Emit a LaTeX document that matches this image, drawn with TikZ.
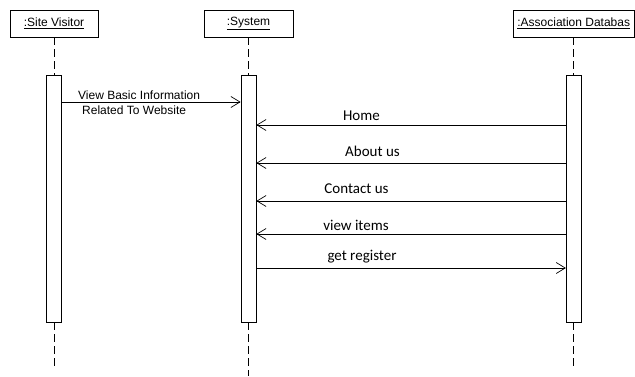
\documentclass[tikz,border=0pt]{standalone}
\usepackage{fontspec}
\setmainfont{Liberation Sans}
\newfontfamily\calfont{Carlito}
\usetikzlibrary{arrows.meta}
\begin{document}
\begin{tikzpicture}[x=1pt,y=-1pt,
  head/.style={draw, line width=0.8pt, minimum height=27pt, inner sep=0pt, font=\fontsize{12}{14}\selectfont},
  act/.style={draw, line width=0.8pt, minimum width=15pt, minimum height=247pt, inner sep=0pt, fill=white},
  life/.style={dash pattern=on 8pt off 4pt, line width=0.7pt},
  msg/.style={line width=0.7pt, -{Straight Barb[length=9pt,width=11pt,line width=0.7pt]}},
  lab/.style={font=\calfont\fontsize{15}{17}\selectfont, inner sep=0pt, anchor=base},
  txt/.style={font=\fontsize{12}{15}\selectfont, inner sep=0pt, align=left, anchor=west}]
\useasboundingbox (0,0) rectangle (635,376);
% heads
\node[head, minimum width=88pt] (h1) at (54,23.5) {\underline{:Site Visitor}};
\node[head, minimum width=89pt] (h2) at (248.5,23.5) {\underline{:System}};
\node[head, minimum width=121.5pt] (h3) at (573.75,23.5) {\underline{:Association Databas}};
% activation bars
\node[act] (a1) at (54,198.5) {};
\node[act] (a2) at (248.5,198.5) {};
\node[act] (a3) at (573.75,198.5) {};
% lifeline ends
\coordinate (e1) at (54,368);
\coordinate (e2) at (248.5,376);
\coordinate (e3) at (573.75,368);
\draw[life] (h1.south) -- (a1.north);
\draw[life] (h2.south) -- (a2.north);
\draw[life] (h3.south) -- (a3.north);
\draw[life] (a1.south) -- (e1);
\draw[life] (a2.south) -- (e2);
\draw[life] (a3.south) -- (e3);
% message levels
\coordinate (y1) at (0,102);
\coordinate (y2) at (0,125);
\coordinate (y3) at (0,163);
\coordinate (y4) at (0,201);
\coordinate (y5) at (0,234);
\coordinate (y6) at (0,268);
\draw[msg] (a1.east |- y1) -- (a2.west |- y1);
\draw[msg] (a3.west |- y2) -- (a2.east |- y2);
\draw[msg] (a3.west |- y3) -- (a2.east |- y3);
\draw[msg] (a3.west |- y4) -- (a2.east |- y4);
\draw[msg] (a3.west |- y5) -- (a2.east |- y5);
\draw[msg] (a2.east |- y6) -- (a3.west |- y6);
% labels
\node[txt] (t1) at (78,102.5) {View Basic Information\\\hspace{4pt}Related To Website};
\node[lab] (t2) at (361.5,120) {Home};
\node[lab] (t3) at (372.5,156) {About us};
\node[lab] (t4) at (356.5,193) {Contact us};
\node[lab] (t5) at (356,230) {view items};
\node[lab] (t6) at (362,260) {get register};
\end{tikzpicture}
\end{document}
